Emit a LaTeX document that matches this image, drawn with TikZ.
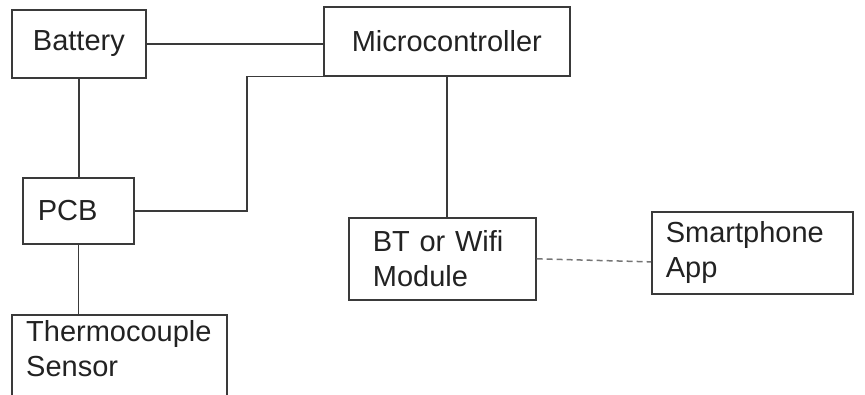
\documentclass[tikz,border=0pt]{standalone}
\usepackage{fontspec}
\setmainfont{Liberation Sans}
\usetikzlibrary{calc}
\definecolor{edge}{HTML}{3A3A3A}
\definecolor{ink}{HTML}{222222}
\begin{document}
\begin{tikzpicture}[x=1pt,y=-1pt,
  box/.style={draw=edge,line width=1.7pt,anchor=north west,inner sep=0pt,
    font=\fontsize{29}{35}\selectfont,text=ink},
  leftbox/.style={box,align=left},
  wire/.style={draw=edge,line width=1.6pt},
  radio/.style={draw=edge!70,line width=1.5pt,dash pattern=on 6pt off 4pt}]
\useasboundingbox (0,0) rectangle (865,395);
\clip (0,0) rectangle (865,395);
\node[box,minimum width=134pt,minimum height=68pt] (bat) at (11,9) {Battery};
\node[box,minimum width=246pt,minimum height=69pt] (mc) at (323,6) {Microcontroller};
\node[leftbox,minimum width=111pt,minimum height=66pt,inner xsep=15pt,text width=81pt] (pcb) at (22,177) {PCB};
\node[box,minimum width=215pt,minimum height=110pt] (th) at (11,314) {};
\node[font=\fontsize{29}{35}\selectfont,text=ink,align=left,anchor=west,inner sep=0pt] (thtxt) at (26,349) {Thermocouple\\Sensor};
\node[leftbox,minimum width=187pt,minimum height=82pt,inner xsep=24pt,text width=139pt] (bt) at (348,217) {BT or Wifi\\Module};
\node[leftbox,minimum width=201pt,minimum height=82pt,inner xsep=14pt,text width=173pt] (sp) at (651,211) {Smartphone\\App};
\coordinate (j) at ($(mc.south west)+(-76,0)$);
\draw[wire] (bat.east) -- (bat.east -| mc.west);
\draw[wire] (bat.south) -- (bat.south |- pcb.north);
\draw[wire] (pcb.east) -| (j) -- (mc.south west);
\draw[wire] (pcb.south) -- (pcb.south |- th.north);
\draw[wire] (mc.south) -- (mc.south |- bt.north);
\draw[radio] (bt.east) -- ([yshift=-9pt]sp.west);
\end{tikzpicture}
\end{document}
